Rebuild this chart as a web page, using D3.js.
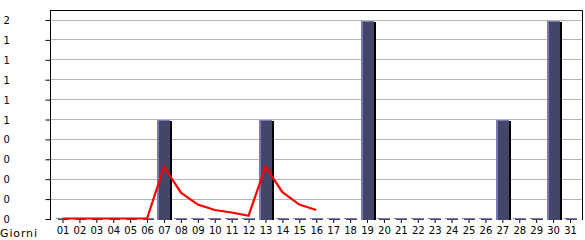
<!DOCTYPE html>
<html><head><meta charset="utf-8">
<script src="https://cdn.jsdelivr.net/npm/d3@7"></script>
<style>body{margin:0;background:#fff}svg{display:block}text{font-family:"DejaVu Sans",sans-serif;font-size:10px;fill:#000}</style>
</head><body><svg id="c" width="585" height="240"></svg>
<script>
const days = ["01","02","03","04","05","06","07","08","09","10","11","12","13","14","15","16","17","18","19","20","21","22","23","24","25","26","27","28","29","30","31"];
const barValues = [0,0,0,0,0,0,1,0,0,0,0,0,1,0,0,0,0,0,2,0,0,0,0,0,0,0,1,0,0,2,0];
const lineValues = [0,0,0,0,0,0,0.52,0.26,0.14,0.085,0.06,0.028,0.52,0.265,0.14,0.085];
const yTicks = [0,0.2,0.4,0.6,0.8,1.0,1.2,1.4,1.6,1.8,2.0];
const xLabel = "Giorni";

const svg = d3.select("#c");
const L = 50, R = 582.5, T = 10.5, B = 220;
const x = d3.scalePoint().domain(days).range([62.5, 570]);
const y = d3.scaleLinear().domain([0, 2]).range([219.5, 20.5]);

// frame
svg.append("line").attr("x1", R).attr("x2", R).attr("y1", T).attr("y2", B).attr("stroke","#000");
svg.append("line").attr("x1", L).attr("x2", R).attr("y1", T).attr("y2", T).attr("stroke","#000");

// gridlines
svg.append("g").selectAll("line").data(yTicks.filter(d => d > 0)).join("line")
  .attr("x1", L + 1).attr("x2", R - 0.5)
  .attr("y1", d => Math.round(y(d)) - 0.5).attr("y2", d => Math.round(y(d)) - 0.5)
  .attr("stroke", "#b4b4b4");

// y axis
const yAxis = d3.axisLeft(y).tickValues(yTicks).tickSize(5).tickPadding(0)
  .tickFormat(d => String(Math.floor(d + 1e-9)));
const gy = svg.append("g").attr("transform", `translate(${L + 0.5},0)`).call(yAxis);
gy.select(".domain").remove();
gy.selectAll(".tick line").attr("stroke", "#000").attr("x1", -5).attr("x2", 0)
  .attr("transform", "translate(0,-0.5)");
gy.selectAll(".tick text").attr("x", -L + 3).attr("text-anchor", "start").attr("dy", "0.3em");
svg.append("line").attr("x1", L + 0.5).attr("x2", L + 0.5).attr("y1", T).attr("y2", B).attr("stroke", "#000");

// x axis
const xAxis = d3.axisBottom(x).tickSize(4).tickPadding(2);
const gx = svg.append("g").attr("transform", `translate(0,${B - 1})`).call(xAxis);
gx.select(".domain").remove();
gx.selectAll(".tick line").attr("stroke", "#000");
gx.selectAll(".tick text").attr("dy", "0.9em");
svg.append("text").attr("x", 0).attr("y", 237).text(xLabel).style("font-size", "11px")
  .attr("textLength", 37).attr("lengthAdjust", "spacing");

// bars
const bw = 13;
const bars = svg.append("g").selectAll("g").data(days.map((d, i) => ({d, v: barValues[i]}))).join("g");
bars.each(function (p) {
  const g = d3.select(this);
  const cx = x(p.d);
  const x0 = Math.round(cx - bw / 2);
  if (p.v > 0) {
    const top = Math.round(y(p.v));
    const bot = B - 1;
    g.append("rect").attr("x", x0 + bw).attr("y", top + 1).attr("width", 2).attr("height", bot - top).attr("fill", "#000");
    g.append("rect").attr("x", x0).attr("y", top).attr("width", bw).attr("height", bot - top + 1).attr("fill", "#444669");
    g.append("rect").attr("x", x0).attr("y", top).attr("width", 2).attr("height", bot - top + 1).attr("fill", "#7a7ab4");
    g.append("rect").attr("x", x0).attr("y", top).attr("width", bw).attr("height", 1).attr("fill", "#7a7ab4");
  } else {
    g.append("rect").attr("x", x0).attr("y", B - 2).attr("width", bw).attr("height", 1).attr("fill", "#7a7ab4");
    g.append("rect").attr("x", x0 + 2).attr("y", B - 1).attr("width", bw - 2).attr("height", 1).attr("fill", "#44466a");
  }
});

// line
const line = d3.line().x((d, i) => x(days[i])).y(d => y(d) - 1);
svg.append("path").datum(lineValues).attr("d", line).attr("fill", "none")
  .attr("stroke", "#f00").attr("stroke-width", 2.2);
</script></body></html>
